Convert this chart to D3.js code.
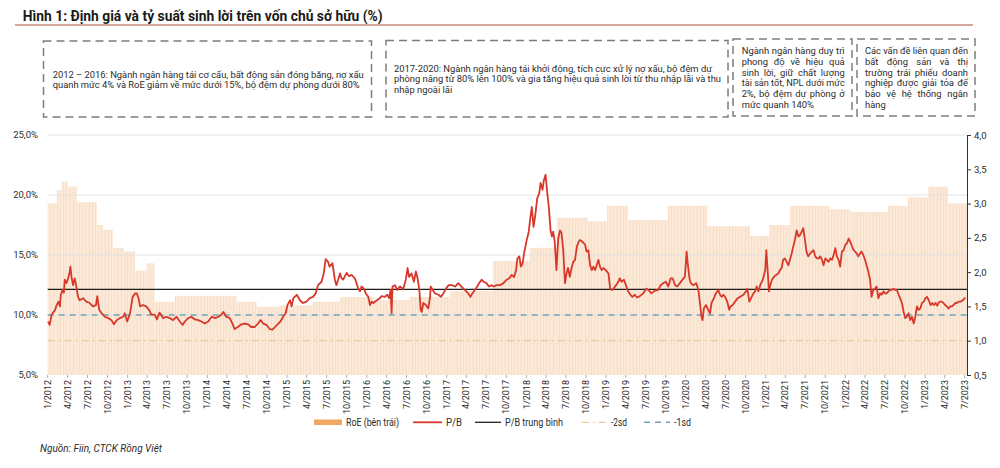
<!DOCTYPE html>
<html>
<head>
<meta charset="utf-8">
<script src="https://cdn.jsdelivr.net/npm/d3@7"></script>
<style>
  html, body { margin: 0; padding: 0; background: #fff; }
  svg { display: block; font-family: Roboto, "Noto Sans", sans-serif; }
</style>
</head>
<body>
<svg id="chart" width="1000" height="468"></svg>
<script>
// ---------------- DATA ----------------
const titleText = "Hình 1: Định giá và tỷ suất sinh lời trên vốn chủ sở hữu (%)";
const sourceText = "Nguồn: Fiin, CTCK Rồng Việt";

// RoE (left axis, %) — step values, each starting on the given date
const roeStarts = ["2012-01-01","2012-02-12","2012-03-05","2012-04-02","2012-05-13","2012-08-13","2012-09-10","2012-10-25","2012-12-15","2013-02-04","2013-03-29","2013-05-05","2013-08-05","2014-05-15","2014-08-15","2014-11-30","2015-04-28","2015-09-01","2016-02-04","2016-07-16","2017-01-17","2017-08-01","2018-01-18","2018-05-20","2018-10-10","2019-01-06","2019-04-11","2019-10-12","2020-04-08","2020-10-21","2021-01-18","2021-04-23","2021-10-18","2022-01-24","2022-07-15","2022-10-15","2023-01-15","2023-04-15"];
const roeValues = [19.3,20.4,21.1,20.7,19.4,17.5,17.1,15.6,15.3,13.7,14.3,11.1,11.6,11.1,10.7,10.8,11.1,11.5,11.25,11.5,12.0,14.5,15.6,18.1,17.8,19.1,17.9,19.1,17.4,16.6,17.5,19.1,18.8,18.6,19.1,19.8,20.7,19.3];
const roeEnd = "2023-07-12";

// P/B (right axis)
const pbSeries = [
["2012-01-03",1.28],["2012-01-10",1.23],["2012-01-19",1.38],["2012-02-04",1.45],["2012-02-11",1.52],["2012-02-19",1.57],["2012-02-26",1.50],["2012-03-01",1.67],["2012-03-09",1.74],["2012-03-15",1.70],["2012-03-19",1.89],["2012-03-27",1.84],["2012-04-04",1.91],["2012-04-11",2.01],["2012-04-14",2.08],["2012-04-19",1.93],["2012-04-26",1.81],["2012-05-04",1.91],["2012-05-11",1.79],["2012-05-19",1.64],["2012-05-26",1.59],["2012-06-11",1.62],["2012-06-26",1.57],["2012-07-11",1.55],["2012-07-26",1.50],["2012-08-09",1.52],["2012-08-15",1.65],["2012-08-24",1.45],["2012-09-04",1.40],["2012-09-19",1.35],["2012-10-04",1.33],["2012-10-19",1.30],["2012-10-30",1.24],["2012-11-12",1.30],["2012-11-27",1.33],["2012-12-12",1.35],["2012-12-19",1.40],["2012-12-30",1.28],
["2013-01-12",1.40],["2013-01-24",1.64],["2013-02-05",1.69],["2013-02-12",1.69],["2013-02-20",1.62],["2013-02-27",1.50],["2013-03-12",1.52],["2013-03-27",1.50],["2013-04-09",1.45],["2013-04-20",1.38],["2013-05-05",1.38],["2013-05-15",1.31],["2013-05-27",1.41],["2013-06-12",1.33],["2013-06-27",1.35],["2013-07-12",1.33],["2013-07-28",1.30],["2013-08-13",1.35],["2013-08-28",1.28],["2013-09-10",1.23],["2013-09-20",1.28],["2013-10-05",1.33],["2013-10-20",1.35],["2013-11-05",1.31],["2013-11-20",1.30],["2013-12-05",1.28],["2013-12-20",1.25],
["2014-01-05",1.28],["2014-01-21",1.35],["2014-02-06",1.33],["2014-02-21",1.35],["2014-03-06",1.38],["2014-03-16",1.42],["2014-03-28",1.35],["2014-04-14",1.33],["2014-04-26",1.25],["2014-05-06",1.17],["2014-05-21",1.20],["2014-06-06",1.24],["2014-06-21",1.25],["2014-07-06",1.24],["2014-07-21",1.20],["2014-08-06",1.20],["2014-08-21",1.25],["2014-09-02",1.30],["2014-09-14",1.25],["2014-09-29",1.23],["2014-10-14",1.17],["2014-10-26",1.16],["2014-11-07",1.20],["2014-11-22",1.25],["2014-12-02",1.28],["2014-12-14",1.35],["2014-12-26",1.40],
["2015-01-03",1.52],["2015-01-15",1.59],["2015-01-22",1.50],["2015-01-30",1.62],["2015-02-15",1.67],["2015-03-01",1.59],["2015-03-15",1.55],["2015-03-31",1.57],["2015-04-15",1.62],["2015-04-30",1.64],["2015-05-12",1.69],["2015-05-23",1.81],["2015-06-08",1.86],["2015-06-18",1.98],["2015-06-27",2.19],["2015-07-08",2.15],["2015-07-15",2.08],["2015-07-28",2.13],["2015-08-08",1.89],["2015-08-15",1.81],["2015-08-23",1.89],["2015-09-01",1.98],["2015-09-08",1.91],["2015-09-15",1.89],["2015-10-01",1.99],["2015-10-12",1.94],["2015-10-23",1.96],["2015-11-08",1.91],["2015-11-23",1.76],["2015-12-01",1.72],["2015-12-08",1.79],["2015-12-19",1.76],["2015-12-28",1.69],
["2016-01-08",1.64],["2016-01-16",1.52],["2016-01-24",1.57],["2016-02-01",1.55],["2016-02-16",1.59],["2016-03-01",1.62],["2016-03-09",1.65],["2016-03-24",1.64],["2016-04-04",1.67],["2016-04-13",1.62],["2016-04-19",1.74],["2016-04-24",1.40],["2016-04-28",1.79],["2016-05-09",1.81],["2016-05-20",1.74],["2016-06-01",1.79],["2016-06-16",1.75],["2016-06-28",1.89],["2016-07-06",2.06],["2016-07-13",1.93],["2016-07-24",1.98],["2016-08-04",1.86],["2016-08-13",2.01],["2016-08-21",1.91],["2016-08-29",1.74],["2016-09-04",1.45],["2016-09-09",1.42],["2016-09-16",1.55],["2016-09-28",1.52],["2016-10-09",1.47],["2016-10-17",1.64],["2016-10-20",1.79],["2016-10-29",1.74],["2016-11-09",1.69],["2016-11-24",1.67],["2016-12-06",1.64],["2016-12-17",1.69],["2016-12-29",1.76],
["2017-01-10",1.81],["2017-01-25",1.81],["2017-02-09",1.79],["2017-02-23",1.84],["2017-03-10",1.79],["2017-03-25",1.74],["2017-04-10",1.69],["2017-04-20",1.64],["2017-04-29",1.69],["2017-05-10",1.74],["2017-05-21",1.79],["2017-05-30",1.84],["2017-06-10",1.89],["2017-06-20",1.86],["2017-07-02",1.84],["2017-07-14",1.79],["2017-07-25",1.81],["2017-08-05",1.79],["2017-08-18",1.81],["2017-09-02",1.81],["2017-09-18",1.84],["2017-10-03",1.89],["2017-10-15",1.91],["2017-10-26",1.96],["2017-11-06",1.93],["2017-11-15",2.03],["2017-11-21",2.20],["2017-11-30",2.23],["2017-12-07",2.08],["2017-12-15",2.13],["2017-12-23",2.30],
["2018-01-03",2.47],["2018-01-12",2.59],["2018-01-18",2.76],["2018-01-26",2.95],["2018-02-03",2.66],["2018-02-10",2.81],["2018-02-20",3.08],["2018-03-01",3.15],["2018-03-07",3.30],["2018-03-16",3.20],["2018-03-22",3.34],["2018-03-30",3.42],["2018-04-07",3.15],["2018-04-14",2.95],["2018-04-22",2.61],["2018-04-28",2.52],["2018-05-04",2.59],["2018-05-11",2.44],["2018-05-19",2.03],["2018-05-27",2.49],["2018-06-04",2.61],["2018-06-11",2.57],["2018-06-19",2.32],["2018-06-27",1.84],["2018-07-04",1.98],["2018-07-11",2.06],["2018-07-19",1.93],["2018-07-27",2.06],["2018-08-04",2.15],["2018-08-12",2.18],["2018-08-20",2.37],["2018-08-28",2.44],["2018-09-04",2.47],["2018-09-16",2.44],["2018-09-27",2.40],["2018-10-04",2.30],["2018-10-12",2.32],["2018-10-20",2.10],["2018-10-28",2.03],["2018-11-04",2.08],["2018-11-12",2.03],["2018-11-19",2.10],["2018-11-27",2.18],["2018-12-04",2.08],["2018-12-12",2.03],["2018-12-20",2.06],["2018-12-31",2.03],
["2019-01-12",1.98],["2019-01-20",1.76],["2019-01-28",1.74],["2019-02-04",1.76],["2019-02-16",1.81],["2019-02-26",1.86],["2019-03-05",1.91],["2019-03-13",1.86],["2019-03-24",1.89],["2019-04-02",1.81],["2019-04-12",1.72],["2019-04-23",1.67],["2019-05-02",1.64],["2019-05-13",1.67],["2019-05-23",1.63],["2019-06-05",1.65],["2019-06-20",1.69],["2019-07-05",1.76],["2019-07-17",1.73],["2019-07-28",1.69],["2019-08-13",1.73],["2019-08-28",1.74],["2019-09-08",1.81],["2019-09-20",1.84],["2019-10-02",1.86],["2019-10-13",1.79],["2019-10-24",1.91],["2019-11-02",1.91],["2019-11-13",1.81],["2019-11-23",1.79],["2019-12-05",1.84],["2019-12-17",1.89],["2019-12-28",1.93],
["2020-01-05",2.30],["2020-01-10",2.13],["2020-01-18",1.91],["2020-01-24",1.84],["2020-02-05",1.81],["2020-02-18",1.84],["2020-02-28",1.74],["2020-03-06",1.55],["2020-03-13",1.35],["2020-03-18",1.30],["2020-03-24",1.47],["2020-04-03",1.52],["2020-04-13",1.45],["2020-04-21",1.40],["2020-04-28",1.55],["2020-05-09",1.62],["2020-05-18",1.69],["2020-05-29",1.74],["2020-06-06",1.67],["2020-06-14",1.64],["2020-06-21",1.67],["2020-06-29",1.64],["2020-07-09",1.57],["2020-07-18",1.45],["2020-07-24",1.50],["2020-08-03",1.52],["2020-08-14",1.57],["2020-08-25",1.62],["2020-09-06",1.64],["2020-09-21",1.67],["2020-10-03",1.72],["2020-10-09",1.76],["2020-10-18",1.57],["2020-10-29",1.64],["2020-11-06",1.69],["2020-11-14",1.72],["2020-11-21",1.79],["2020-11-29",1.72],["2020-12-07",1.81],["2020-12-19",1.89],["2020-12-30",2.03],
["2021-01-04",2.32],["2021-01-10",2.03],["2021-01-16",1.72],["2021-01-22",1.81],["2021-01-30",1.89],["2021-02-07",1.93],["2021-02-18",1.96],["2021-02-28",1.98],["2021-03-07",2.03],["2021-03-15",2.06],["2021-03-22",2.18],["2021-03-30",2.20],["2021-04-07",2.15],["2021-04-15",2.10],["2021-04-22",2.18],["2021-04-30",2.27],["2021-05-07",2.37],["2021-05-15",2.47],["2021-05-23",2.61],["2021-05-31",2.52],["2021-06-07",2.54],["2021-06-15",2.59],["2021-06-22",2.64],["2021-06-30",2.47],["2021-07-07",2.30],["2021-07-15",2.23],["2021-07-23",2.27],["2021-08-01",2.30],["2021-08-08",2.32],["2021-08-16",2.23],["2021-08-24",2.20],["2021-09-01",2.20],["2021-09-08",2.23],["2021-09-16",2.18],["2021-09-23",2.10],["2021-10-01",2.20],["2021-10-08",2.18],["2021-10-16",2.15],["2021-10-24",2.20],["2021-11-01",2.18],["2021-11-08",2.25],["2021-11-16",2.35],["2021-11-23",2.23],["2021-12-01",2.18],["2021-12-08",2.08],["2021-12-16",2.30],["2021-12-24",2.32],
["2022-01-01",2.40],["2022-01-08",2.42],["2022-01-16",2.49],["2022-01-24",2.44],["2022-02-01",2.37],["2022-02-08",2.32],["2022-02-15",2.30],["2022-02-22",2.27],["2022-03-01",2.23],["2022-03-09",2.27],["2022-03-16",2.30],["2022-03-24",2.25],["2022-04-01",2.18],["2022-04-08",2.10],["2022-04-16",2.01],["2022-04-24",1.89],["2022-05-01",1.64],["2022-05-09",1.74],["2022-05-16",1.76],["2022-05-24",1.79],["2022-06-01",1.62],["2022-06-09",1.69],["2022-06-16",1.67],["2022-06-24",1.72],["2022-07-01",1.69],["2022-07-09",1.69],["2022-07-17",1.72],["2022-07-25",1.74],["2022-08-02",1.74],["2022-08-09",1.76],["2022-08-17",1.74],["2022-08-25",1.74],["2022-09-02",1.67],["2022-09-09",1.62],["2022-09-17",1.55],["2022-09-25",1.42],["2022-10-02",1.33],["2022-10-09",1.35],["2022-10-17",1.40],["2022-10-25",1.30],["2022-11-02",1.35],["2022-11-10",1.25],["2022-11-17",1.35],["2022-11-25",1.50],["2022-12-02",1.45],["2022-12-10",1.47],["2022-12-18",1.55],["2022-12-26",1.57],
["2023-01-03",1.62],["2023-01-10",1.64],["2023-01-18",1.59],["2023-01-26",1.52],["2023-02-03",1.55],["2023-02-10",1.52],["2023-02-18",1.55],["2023-02-26",1.51],["2023-03-03",1.55],["2023-03-10",1.57],["2023-03-18",1.57],["2023-03-26",1.55],["2023-04-03",1.52],["2023-04-11",1.50],["2023-04-18",1.47],["2023-04-26",1.50],["2023-05-03",1.50],["2023-05-11",1.52],["2023-05-19",1.55],["2023-05-26",1.55],["2023-06-03",1.57],["2023-06-11",1.57],["2023-06-19",1.58],["2023-06-26",1.60],["2023-07-04",1.63]
];

// P/B statistics
const pbMean = 1.75;
const pbMinus1sd = 1.375;
const pbMinus2sd = 1.0;

// Axis ticks
const leftTicks = [5, 10, 15, 20, 25];
const rightTicks = [0.5, 1.0, 1.5, 2.0, 2.5, 3.0, 3.5, 4.0];
const xStart = "2012-01-01", xEnd = "2023-07-12";

// Legend labels
const legendLabels = ["RoE (bên trái)", "P/B", "P/B trung bình", "-2sd", "-1sd"];

// Annotation boxes
const notes = [
  { lines: ["2012 – 2016: Ngành ngân hàng tái cơ cấu, bất động sản đóng băng, nợ xấu",
            "quanh mức 4% và RoE giảm về mức dưới 15%, bộ đệm dự phòng dưới 80%"] },
  { lines: ["2017-2020: Ngành ngân hàng tái khởi động, tích cực xử lý nợ xấu, bộ đệm dự",
            "phòng nâng từ 80% lên 100% và gia tăng hiệu quả sinh lời từ thu nhập lãi và thu",
            "nhập ngoài lãi"] },
  { lines: ["Ngành ngân hàng duy trì", "phong độ về hiệu quả", "sinh lời, giữ chất lượng",
            "tài sản tốt, NPL dưới mức", "2%, bộ đệm dự phòng ở", "mức quanh 140%"] },
  { lines: ["Các vấn đề liên quan đến", "bất động sản và thị", "trường trái phiếu doanh",
            "nghiệp được giải tỏa để", "bảo vệ hệ thống ngân", "hàng"] }
];

// ---------------- LAYOUT / STYLE ----------------
const P = { left: 47.7, right: 967, top: 135, bottom: 375 };
const C = {
  red: "#d8382a", mean: "#1e1e1e", sd1: "#74a3b6", sd2: "#efc79c",
  roe: "#f2a763", bar: "#fbe8d7", barStripe: "#f6dcc6", grid: "#e2e2e2",
  text: "#2b2b2b", rule: "#c7897b", box: "#7d7d7d"
};

const parse = d3.timeParse("%Y-%m-%d");
const svg = d3.select("#chart");

const x = d3.scaleTime().domain([parse(xStart), parse(xEnd)]).range([P.left, P.right]);
const yL = d3.scaleLinear().domain([5, 25]).range([P.bottom, P.top]);
const yR = d3.scaleLinear().domain([0.5, 4]).range([P.bottom, P.top]);

function fit(sel, target, justify) {
  const node = sel.node();
  const w = node.getComputedTextLength();
  if (w > target) {
    sel.attr("textLength", target).attr("lengthAdjust", "spacingAndGlyphs");
  } else if (justify) {
    const spaces = (sel.text().match(/ /g) || []).length;
    if (spaces > 0) sel.attr("word-spacing", (target - w) / spaces);
  }
}

// Title
const title = svg.append("text").attr("x", 22.7).attr("y", 20.5)
  .attr("font-size", 14.5).attr("font-weight", "bold").attr("fill", "#1a1a1a")
  .text(titleText);
fit(title, 360);
svg.append("line").attr("x1", 15).attr("x2", 973).attr("y1", 25).attr("y2", 25)
  .attr("stroke", C.rule).attr("stroke-width", 1.6);

// Annotation boxes
const boxGeom = [
  { x: 43.5, y: 41, w: 328, h: 76, tx: 52.7, fs: 9.4, base: [77.7, 88.2], widths: [311, 307], justify: false },
  { x: 386, y: 40.5, w: 342, h: 76.5, tx: 394, fs: 9.4, base: [71.7, 82.2, 92.7], widths: [326, 327, 60], justify: false },
  { x: 733, y: 39, w: 119, h: 77, tx: 741.7, fs: 9.4, base: [54.3, 65, 75.7, 86.4, 97.1, 107.8], widths: [103,103,103,103,103,90], justify: true },
  { x: 857, y: 39, w: 118, h: 77, tx: 865, fs: 9.4, base: [54.3, 65, 75.7, 86.4, 97.1, 107.8], widths: [103,103,103,103,103,90], justify: true }
];
notes.forEach((n, i) => {
  const g = boxGeom[i];
  svg.append("rect").attr("x", g.x).attr("y", g.y).attr("width", g.w).attr("height", g.h)
    .attr("fill", "none").attr("stroke", C.box).attr("stroke-width", 1.5)
    .attr("stroke-dasharray", "8,5");
  n.lines.forEach((line, j) => {
    const t = svg.append("text").attr("x", g.tx).attr("y", g.base[j])
      .attr("font-size", g.fs).attr("fill", C.text).text(line);
    const last = j === n.lines.length - 1;
    fit(t, g.widths[j], g.justify && !last);
  });
});

// Stripe pattern for RoE bars
const defs = svg.append("defs");
const pat = defs.append("pattern").attr("id", "roeStripe").attr("patternUnits", "userSpaceOnUse")
  .attr("width", 3.2).attr("height", 10);
pat.append("rect").attr("width", 3.2).attr("height", 10).attr("fill", C.bar);
pat.append("rect").attr("x", 2.4).attr("width", 0.8).attr("height", 10).attr("fill", C.barStripe);

// RoE bars
const roeData = roeStarts.map((d, i) => ({
  start: parse(d),
  end: parse(i < roeStarts.length - 1 ? roeStarts[i + 1] : roeEnd),
  v: roeValues[i]
}));
svg.append("g").selectAll("rect").data(roeData).join("rect")
  .attr("x", d => x(d.start))
  .attr("width", d => x(d.end) - x(d.start))
  .attr("y", d => yL(d.v))
  .attr("height", d => yL(5) - yL(d.v))
  .attr("fill", "url(#roeStripe)");

// Gridlines
svg.append("g").selectAll("line").data(leftTicks.filter(t => t > 5)).join("line")
  .attr("x1", P.left).attr("x2", P.right)
  .attr("y1", d => yL(d)).attr("y2", d => yL(d))
  .attr("stroke", C.grid).attr("stroke-width", 1);

// Left axis labels
const fmtL = v => d3.format(".1f")(v).replace(".", ",") + "%";
svg.append("g").selectAll("text").data(leftTicks).join("text")
  .attr("x", 38).attr("y", d => yL(d)).attr("dy", "0.35em")
  .attr("text-anchor", "end").attr("font-size", 9.5).attr("fill", C.text)
  .text(fmtL);

// Right axis
const axR = svg.append("g").attr("transform", `translate(${P.right},0)`)
  .call(d3.axisRight(yR).tickValues(rightTicks).tickSize(4)
    .tickFormat(v => d3.format(".1f")(v).replace(".", ",")));
axR.select(".domain").attr("stroke", "#333");
axR.selectAll(".tick line").attr("stroke", "#333");
axR.selectAll("text").attr("font-size", 9.5).attr("fill", C.text).attr("x", 7)
  .attr("font-family", "Roboto, 'Noto Sans', sans-serif");

// Bottom axis (quarterly)
const quarterTicks = d3.timeMonth.every(3).range(parse("2012-01-01"), parse("2023-07-02"));
const axB = svg.append("g").attr("transform", `translate(0,${P.bottom})`);
axB.selectAll("line").data(quarterTicks).join("line")
  .attr("x1", d => x(d)).attr("x2", d => x(d)).attr("y1", 0).attr("y2", 3)
  .attr("stroke", "#9a9a9a").attr("stroke-width", 0.8);
axB.selectAll("text").data(quarterTicks).join("text")
  .attr("transform", d => `translate(${x(d)},5) rotate(-90)`)
  .attr("text-anchor", "end").attr("dy", "0.35em")
  .attr("font-size", 9).attr("fill", C.text)
  .text(d => (d.getMonth() + 1) + "/" + d.getFullYear());

// Reference lines
function hline(v, color, w, dash) {
  svg.append("line").attr("x1", P.left).attr("x2", P.right)
    .attr("y1", yR(v)).attr("y2", yR(v))
    .attr("stroke", color).attr("stroke-width", w)
    .attr("stroke-dasharray", dash || null);
}
hline(pbMinus2sd, C.sd2, 1.3, "7,4,2,4");
hline(pbMinus1sd, C.sd1, 1.5, "6,5");
hline(pbMean, C.mean, 1.3);

// P/B line
const pbData = pbSeries.map(d => ({ date: parse(d[0]), v: d[1] }));
svg.append("path").datum(pbData)
  .attr("fill", "none").attr("stroke", C.red).attr("stroke-width", 1.8)
  .attr("stroke-linejoin", "round")
  .attr("d", d3.line().x(d => x(d.date)).y(d => yR(d.v)));

// Legend
const lg = svg.append("g").attr("font-size", 10.3).attr("fill", C.text);
const ly = 422.3;
lg.append("rect").attr("x", 314).attr("y", 419.5).attr("width", 28).attr("height", 5.5).attr("fill", C.roe);
lg.append("line").attr("x1", 413).attr("x2", 442).attr("y1", ly).attr("y2", ly).attr("stroke", C.red).attr("stroke-width", 1.8);
lg.append("line").attr("x1", 475).attr("x2", 501).attr("y1", ly).attr("y2", ly).attr("stroke", C.mean).attr("stroke-width", 1.3);
lg.append("line").attr("x1", 582).attr("x2", 607).attr("y1", ly).attr("y2", ly).attr("stroke", C.sd2).attr("stroke-width", 1.3).attr("stroke-dasharray", "7,4,2,4");
lg.append("line").attr("x1", 644).attr("x2", 670).attr("y1", ly).attr("y2", ly).attr("stroke", C.sd1).attr("stroke-width", 1.5).attr("stroke-dasharray", "6,5");
const legendPos = [[346, 53], [446, 16], [505, 58], [611, 16], [674, 17]];
legendLabels.forEach((lab, i) => {
  const t = lg.append("text").attr("x", legendPos[i][0]).attr("y", ly).attr("dy", "0.35em").text(lab);
  fit(t, legendPos[i][1]);
});

// Source
const src = svg.append("text").attr("x", 40).attr("y", 452).attr("font-size", 10.5)
  .attr("font-style", "italic").attr("fill", C.text).text(sourceText);
fit(src, 122);
</script>
</body>
</html>
